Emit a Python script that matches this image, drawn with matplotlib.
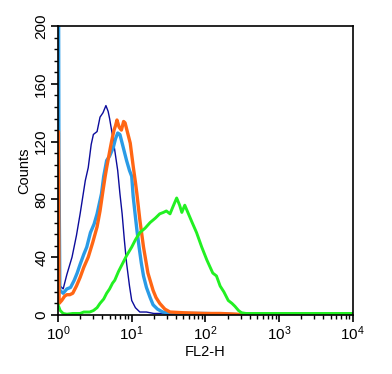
import matplotlib
matplotlib.use("Agg")
import matplotlib.pyplot as plt
import numpy as np
from matplotlib.ticker import MultipleLocator, LogLocator, NullFormatter

plt.rcParams['font.family'] = ['Liberation Sans', 'DejaVu Sans']
plt.rcParams['mathtext.fontset'] = 'custom'
plt.rcParams['mathtext.rm'] = 'Liberation Sans'
plt.rcParams['mathtext.it'] = 'Liberation Sans'

# histogram traces, x given as log10(FL2-H)
navy_lx = [0.00, 0.03, 0.07, 0.12, 0.19, 0.25, 0.30, 0.37, 0.41, 0.45, 0.48, 0.53, 0.57,
           0.61, 0.65, 0.68, 0.70, 0.74, 0.77, 0.81, 0.84, 0.87, 0.90, 0.93, 0.97, 1.00,
           1.05, 1.11, 1.20, 1.30, 1.40, 1.50, 1.60, 4.00]
navy_y = [25, 20, 18, 28, 40, 55, 70, 93, 102, 118, 125, 127, 137,
          140, 145, 141, 136, 124, 114, 100, 84, 70, 52, 36, 20, 10,
          5, 2, 2, 1, 1, 0.5, 0, 0]

blue_lx = [0.00, 0.008, 0.012, 0.025, 0.07, 0.12, 0.17, 0.22, 0.26, 0.30, 0.35, 0.39, 0.44, 0.49,
           0.53, 0.56, 0.59, 0.62, 0.66, 0.70, 0.75, 0.78, 0.81, 0.84, 0.86, 0.90, 0.93,
           0.97, 1.00, 1.02, 1.05, 1.07, 1.10, 1.13, 1.16, 1.20, 1.25, 1.29, 1.35, 1.42,
           1.50, 1.70, 2.00, 2.30, 2.50, 4.00]
blue_y = [210, 210, 110, 17, 15, 18, 19, 24, 29, 35, 42, 47, 57, 63,
          70, 77, 84, 96, 107, 110, 116, 122, 126, 125, 121, 113, 107,
          100, 96, 82, 68, 59, 47, 36, 27, 19, 12, 7, 4, 2,
          1.5, 1, 1, 0.5, 0, 0]

orange_lx = [0.00, 0.006, 0.015, 0.05, 0.09, 0.12, 0.16, 0.20, 0.25, 0.30, 0.35, 0.41, 0.47, 0.53,
             0.57, 0.61, 0.64, 0.66, 0.70, 0.73, 0.76, 0.78, 0.80, 0.83, 0.86, 0.89, 0.91,
             0.94, 0.98, 1.02, 1.05, 1.07, 1.11, 1.16, 1.22, 1.29, 1.33, 1.38, 1.45, 1.52,
             1.70, 2.00, 2.20, 2.43, 2.50, 4.00]
orange_y = [127, 127, 8, 10, 13, 14, 14, 15, 20, 26, 33, 40, 50, 61,
            72, 86, 96, 102, 113, 121, 128, 131, 135, 130, 128, 134, 133,
            127, 119, 103, 92, 84, 66, 47, 29, 17, 12, 8, 4, 2,
            1.5, 1, 1, 0.5, 0, 0]

green_lx = [0.00, 0.03, 0.07, 0.12, 0.20, 0.30, 0.35, 0.43, 0.48, 0.53, 0.57, 0.62, 0.66,
            0.70, 0.74, 0.77, 0.82, 0.88, 0.93, 1.00, 1.05, 1.11, 1.18, 1.25, 1.32, 1.38,
            1.43, 1.47, 1.52, 1.56, 1.61, 1.65, 1.68, 1.72, 1.77, 1.82, 1.88, 1.95, 2.02,
            2.10, 2.15, 2.20, 2.25, 2.31, 2.36, 2.40, 2.45, 2.49, 2.55, 3.00, 3.50, 4.00]
green_y = [7, 3, 1, 0.5, 1, 1, 2, 2, 3, 5, 8, 11, 15,
           18, 22, 24, 30, 36, 41, 47, 52, 57, 60, 64, 67, 70,
           71, 72, 70, 75, 81, 76, 71, 76, 70, 64, 57, 47, 38,
           29, 27, 20, 16, 10, 8, 6, 3, 1.5, 1, 1, 1, 1]

fig = plt.figure(figsize=(3.92, 3.74), dpi=100)
ax = fig.add_axes([0.148, 0.158, 0.752, 0.772])

ax.plot(10 ** np.array(navy_lx), navy_y, color='#0c0c9c', lw=1.0)
ax.plot(10 ** np.array(blue_lx), blue_y, color='#2a9be6', lw=2.4)
ax.plot(10 ** np.array(orange_lx), orange_y, color='#ff6614', lw=2.4)
ax.plot(10 ** np.array(green_lx), green_y, color='#22f022', lw=2.1)

ax.set_xscale('log')
ax.set_xlim(1, 1e4)
ax.set_ylim(0, 200)
ax.xaxis.set_major_locator(LogLocator(base=10, numticks=10))
ax.xaxis.set_minor_locator(LogLocator(base=10, subs=np.arange(2, 10), numticks=20))
ax.xaxis.set_minor_formatter(NullFormatter())
ax.yaxis.set_major_locator(MultipleLocator(40))
ax.yaxis.set_minor_locator(MultipleLocator(8))

for s in ax.spines.values():
    s.set_linewidth(1.2)
ax.tick_params(which='major', length=5, width=1.2, labelsize=11, pad=2)
ax.tick_params(which='minor', length=3, width=1.0)
for lab in ax.get_yticklabels():
    lab.set_rotation(90)
    lab.set_va('center')

ax.set_ylabel('Counts', fontsize=10.5, labelpad=2)
ax.set_xlabel('FL2-H', fontsize=10.5, labelpad=1)

fig.savefig('out.png', dpi=100)
